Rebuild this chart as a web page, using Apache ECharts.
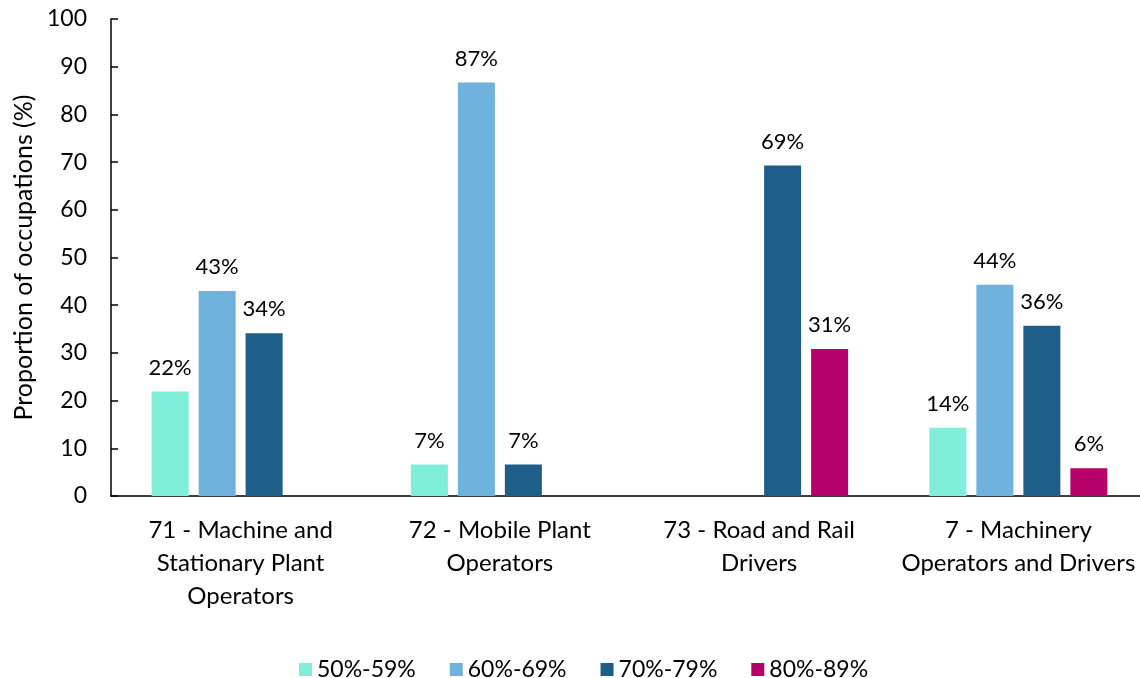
<!DOCTYPE html>
<html>
<head>
<meta charset="utf-8">
<script src="https://cdn.jsdelivr.net/npm/echarts@6/dist/echarts.min.js"></script>
<style>html,body{margin:0;padding:0;background:#fff}#c{width:1140px;height:678px}</style>
</head>
<body>
<div id="c"></div>
<script>
const categories = ['71 - Machine and\nStationary Plant\nOperators', '72 - Mobile Plant\nOperators', '73 - Road and Rail\nDrivers', '7 - Machinery\nOperators and Drivers'];
const seriesNames = ['50%-59%', '60%-69%', '70%-79%', '80%-89%'];
const s50 = [21.9, 6.6, null, 14.3];
const s60 = [43.0, 86.7, null, 44.3];
const s70 = [34.1, 6.6, 69.3, 35.7];
const s80 = [null, null, 30.8, 5.8];
const yTicks = {min: 0, max: 100, interval: 10};
const colors = ['#80EED8', '#70B2DE', '#1F5E88', '#B6006A'];

const FONT = 'Lato';
const chart = echarts.init(document.getElementById('c'));
const mk = (name, data, color) => ({
  name, type: 'bar', data, barWidth: 37, barGap: '27%',
  itemStyle: {color},
  label: {show: true, position: 'top', distance: 13, color: '#000', fontSize: 22, fontFamily: FONT,
    formatter: p => Math.round(p.value) + '%'}
});
chart.setOption({
  animation: false,
  textStyle: {fontFamily: FONT},
  grid: {left: 111, width: 1037, top: 19, bottom: 182, outerBoundsMode: 'none', containLabel: false},
  legend: {
    top: 653, left: 294, itemWidth: 13, itemHeight: 13, itemGap: 34,
    textStyle: {fontSize: 23, color: '#000', fontFamily: FONT},
    data: seriesNames.map(n => ({name: n, icon: 'rect'}))
  },
  xAxis: {
    type: 'category', data: categories,
    axisLine: {lineStyle: {color: '#000', width: 1.5}},
    axisTick: {show: false},
    axisLabel: {color: '#000', fontSize: 24, fontFamily: FONT, lineHeight: 33, margin: 18, interval: 0}
  },
  yAxis: {
    type: 'value', min: yTicks.min, max: yTicks.max, interval: yTicks.interval,
    name: 'Proportion of occupations (%)', nameLocation: 'middle', nameGap: 72,
    nameTextStyle: {fontSize: 25, color: '#000', fontFamily: FONT},
    axisLine: {show: true, lineStyle: {color: '#000', width: 1.5}},
    axisTick: {show: true, inside: true, length: 7, lineStyle: {color: '#000', width: 1.5}},
    axisLabel: {color: '#000', fontSize: 23, fontFamily: FONT, margin: 24},
    splitLine: {show: false}
  },
  series: [mk(seriesNames[0], s50, colors[0]), mk(seriesNames[1], s60, colors[1]), mk(seriesNames[2], s70, colors[2]), mk(seriesNames[3], s80, colors[3])]
});
</script>
</body>
</html>
